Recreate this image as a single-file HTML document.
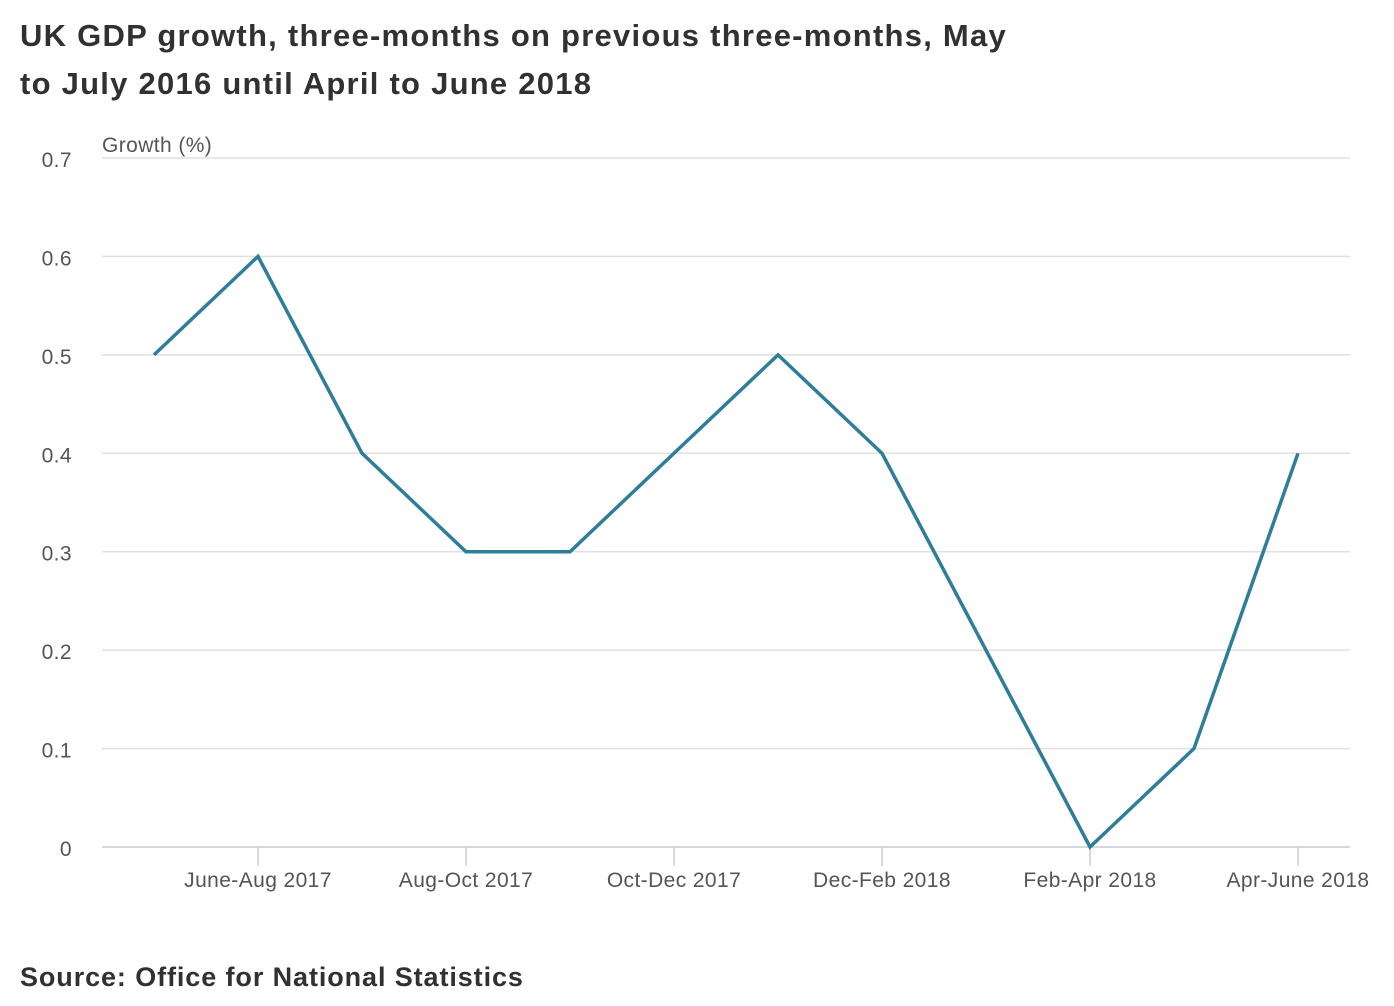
<!DOCTYPE html>
<html><head><meta charset="utf-8"><style>
body{margin:0;background:#fff;width:1394px;height:1006px;overflow:hidden;font-family:"Liberation Sans",sans-serif;}
h1{position:absolute;left:20px;top:12px;margin:0;font-size:31px;line-height:48px;font-weight:bold;color:#323132;letter-spacing:1.25px;}
.src{position:absolute;left:20px;top:962px;font-size:27px;font-weight:bold;color:#323132;letter-spacing:0.9px;}
svg{position:absolute;left:0;top:0;}
</style></head><body>
<h1>UK GDP growth, three-months on previous three-months, May<br>to July 2016 until April to June 2018</h1>
<div class="src">Source: Office for National Statistics</div>
<svg id="c" width="1394" height="1006"></svg>
<script>
const categories=["May-July 2017","June-Aug 2017","July-Sept 2017","Aug-Oct 2017","Sept-Nov 2017","Oct-Dec 2017","Nov-Jan 2018","Dec-Feb 2018","Jan-Mar 2018","Feb-Apr 2018","Mar-May 2018","Apr-June 2018"];
const growth=[0.5,0.6,0.4,0.3,0.3,0.4,0.5,0.4,0.2,0.0,0.1,0.4];
const yTicks=[0,0.1,0.2,0.3,0.4,0.5,0.6,0.7];
const NS="http://www.w3.org/2000/svg";
const svg=document.getElementById('c');
const x=i=>154+i*104;
const y=v=>847-v*(689/0.7);
function mk(t,a,txt){const e=document.createElementNS(NS,t);for(const k in a)e.setAttribute(k,a[k]);if(txt!==undefined)e.textContent=txt;svg.appendChild(e);return e;}
yTicks.forEach(v=>{
 const g=mk('line',{x1:102,x2:1350,y1:y(v),y2:y(v),stroke:v===0?'#c8cbd6':'#e0e0e0','stroke-width':1.5});
 
 
 const t=mk('text',{x:72,y:y(v)+9,'text-anchor':'end','font-size':21,fill:'#555','letter-spacing':0.4,'font-family':'Liberation Sans, sans-serif'},v===0?'0':v.toFixed(1));
 
 
});
const yt=mk('text',{x:102,y:152,'font-size':21,fill:'#555','letter-spacing':0.4,'font-family':'Liberation Sans, sans-serif'},'Growth (%)');


categories.forEach((c,i)=>{
 if(i%2!==1)return;
 const tk=mk('line',{x1:x(i),x2:x(i),y1:847,y2:866,stroke:'#c8cbd6','stroke-width':1.5});
 
 
 const t=mk('text',{x:x(i),y:887,'text-anchor':'middle','font-size':21,fill:'#555','letter-spacing':0.4,'font-family':'Liberation Sans, sans-serif'},c);
 
 
});
const p=mk('polyline',{points:growth.map((v,i)=>x(i)+','+y(v)).join(' '),fill:'none',stroke:'#2e7d9a','stroke-width':3.5,'stroke-linejoin':'miter'});


</script>
</body></html>
